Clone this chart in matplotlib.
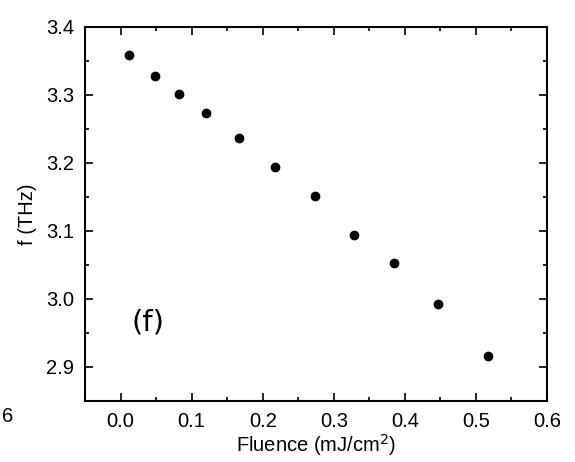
import matplotlib
matplotlib.use("Agg")
import matplotlib.pyplot as plt
from matplotlib.ticker import MultipleLocator, FormatStrFormatter

plt.rcParams['font.family'] = ['Liberation Sans', 'DejaVu Sans']

# fluence (mJ/cm^2) and frequency (THz)
fluence = [0.012, 0.048, 0.082, 0.120, 0.166, 0.217, 0.273, 0.328, 0.385, 0.446, 0.517]
freq = [3.359, 3.328, 3.302, 3.273, 3.237, 3.194, 3.152, 3.094, 3.053, 2.993, 2.916]

W, H = 575, 462
fig = plt.figure(figsize=(W / 100, H / 100), dpi=100)
ax = fig.add_axes([85 / W, 1 - 401 / H, (547 - 85) / W, (401 - 27) / H])

ax.plot(fluence, freq, 'o', color='black', ms=6, mec='black')

ax.set_xlim(-0.05, 0.6)
ax.set_ylim(2.85, 3.4)
ax.xaxis.set_major_locator(MultipleLocator(0.1))
ax.xaxis.set_minor_locator(MultipleLocator(0.05))
ax.yaxis.set_major_locator(MultipleLocator(0.1))
ax.yaxis.set_minor_locator(MultipleLocator(0.05))
ax.xaxis.set_major_formatter(FormatStrFormatter('%.1f'))
ax.yaxis.set_major_formatter(FormatStrFormatter('%.1f'))

for side in ax.spines.values():
    side.set_linewidth(1.5)
ax.tick_params(which='both', direction='in', top=True, right=True, width=1.2)
ax.tick_params(which='major', length=5.5, labelsize=14.5, pad=8)
ax.tick_params(which='minor', length=3)

ax.set_xlabel('Fluence (mJ/cm$^2$)', fontsize=14.5, labelpad=1)
ax.set_ylabel('f (THz)', fontsize=14.5, labelpad=6)

ax.text(0.038, 2.965, '(f)', fontsize=21, family=['DejaVu Sans'], ha='center', va='center')

# leftover label from the neighbouring panel
fig.text(2 / W, 1 - 416 / H, '6', fontsize=14.5, ha='left', va='center')

fig.savefig('out.png', dpi=100)
